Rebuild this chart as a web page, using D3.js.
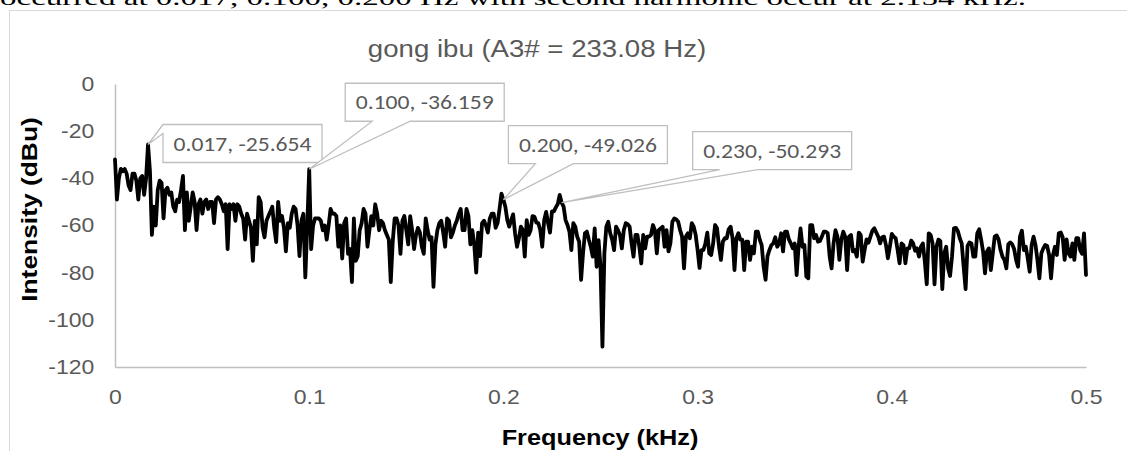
<!DOCTYPE html>
<html>
<head>
<meta charset="utf-8">
<script src="https://cdn.jsdelivr.net/npm/d3@7"></script>
<style>
  html, body { margin: 0; padding: 0; background: #fff; overflow: hidden; }
  svg { display: block; }
</style>
</head>
<body>
<svg id="chart" width="1127" height="451"></svg>
<script>
// spectrum of the "gong ibu" recording, one value per 0.001 kHz bin (dBu)
var binWidth = 0.001;
var intensity = [
  -32, -49, -40, -36, -37, -36, -38, -43, -45, -38, -38, -41, -49, -40, -39, -47, -40,
  -25.654,
  -37, -64, -52, -60, -45, -41, -42, -57, -45, -44, -47, -46, -52, -54, -49, -50, -45, -39, -62,
  -46, -58, -52, -46, -50, -62, -51, -49, -55, -50, -49, -53, -50, -50, -59, -49, -48, -49, -51, -54,
  -51, -70, -51, -53, -51, -58, -51, -52, -55, -57, -66, -55, -58, -61, -75, -58, -68, -48, -50, -61,
  -65, -58, -56, -54, -52, -61, -67, -50, -58, -56, -61, -71, -59, -61, -55, -52, -53, -60, -73, -58, -55, -82, -60,
  -36.159,
  -70, -60, -57, -57, -57, -58, -62, -60, -66, -60, -53, -55, -55, -56, -69, -60, -74, -59, -57, -72,
  -70, -84, -57, -75, -73, -62, -59, -53, -55, -69, -62, -56, -60, -51, -55, -62, -58, -59, -62, -64,
  -66, -84, -67, -57, -57, -60, -72, -58, -56, -62, -68, -56, -62, -70, -64, -61, -63, -69, -72, -57,
  -62, -66, -65, -86, -68, -62, -59, -58, -63, -69, -57, -58, -65, -63, -60, -58, -55, -53, -62, -62,
  -53, -56, -68, -62, -68, -80, -63, -73, -59, -58, -60, -63, -57, -55, -55, -61, -59, -53, -46.5,
  -49.026,
  -52, -57.7, -60.5, -57.7, -55.3, -63.3, -69, -65.4, -60.5, -61.9, -73.2, -57.7, -64, -62, -56, -56.3, -58.8, -59, -62, -69,
  -57.7, -54.2, -59, -63, -54, -54, -52.3, -50.9, -47,
  -50.293,
  -52, -57.7, -59.8, -62.6, -70.4, -59, -60.5, -64.7, -66.9, -83.1, -71.8, -63.3, -62.6, -66, -69, -73.2, -61.2, -77.5, -66.2, -77.5,
  -111.4, -71.8, -60.5, -58.4, -63.3, -66, -70.4, -60.5, -62, -64, -69.7, -62, -59, -59.4, -60.5, -67.6, -73.2, -64, -64, -69,
  -76.1, -64, -69.7, -64.7, -64.7, -64, -59.8, -62, -71.8, -62, -61.2, -60.5, -69, -62, -71, -67.6, -58.4, -57, -57.4, -58.4,
  -62, -64.7, -78.2, -64.7, -63.3, -65.4, -59, -60.5, -64, -70.4,
  -78, -70.4, -70.4, -67.6, -63, -71.8, -72.5, -67.6, -59.8, -61.2, -68.7, -74.6, -66.9, -65.4, -65.4, -61.6, -60.5, -65.4, -78.9, -65.4,
  -63.3, -66, -66, -78.9, -66.9, -66.9, -74.6, -69, -71.8, -62.6, -62.6, -66, -68.3, -77.5, -83, -73, -70.4, -68.3, -67.6, -65,
  -69, -67.6, -63.3, -71, -62.6, -62.6, -65.9, -67.6, -69.7, -67.6, -81, -69, -61.2, -69, -68.3, -81.7, -82.4, -59.8, -59.8, -65.4,
  -64, -66.9, -66.6, -64.7, -62.6, -62.6, -63.3, -73.2, -78.2, -67.6, -62, -64.7, -74.6, -66, -62.6, -64.7, -78.9, -64.7, -64, -71,
  -70.4, -73.2, -63, -64, -75.3, -70.4, -65.9, -67.3, -64.7, -62.2, -61.2, -63, -64.7, -67.6, -65, -64.7, -68.3, -73.9, -69, -63.6,
  -64.7, -65.4, -70.4, -76, -67.6, -68.3, -76, -69.7, -69.7, -66.4, -67.6, -70.7, -69.7, -73.2, -69, -67.6, -75.3, -84.9, -63.3, -64,
  -67.6, -85, -69, -66, -66.6, -87, -71.8, -69, -78.2, -81.4, -73.2, -61.2, -61, -62.3, -65.4, -67.6, -77.5, -87, -68.7, -67.2,
  -67.6, -73.2, -73.2, -63.3, -61.6, -66, -71, -80.3, -71, -69.7, -78.9, -71.8, -64.7, -64.2, -66, -70.4, -73.2, -74.6, -78.2, -68,
  -67.2, -68, -70, -74.6, -77.5, -64.7, -62.2, -70.4, -69, -73.9, -79.6, -68.3, -64.7, -68.3, -74.6, -82.4, -71.8, -69.7, -68.3, -68.7,
  -72.5, -82.4, -72.5, -69, -72.5, -63.3, -63, -65, -74.6, -65.9, -71.8, -73.2, -67.6, -74.6, -65.4, -65.4, -70.4, -72, -63.3, -81
];
var xTicks = [0, 0.1, 0.2, 0.3, 0.4, 0.5];
var yTicks = [0, -20, -40, -60, -80, -100, -120];
var peakIdx = [17, 100, 200, 230];   // labelled peaks

var titleText = "gong ibu (A3# = 233.08 Hz)";
var xTitle = "Frequency (kHz)";
var yTitle = "Intensity (dBu)";
var captionText = "occurred at 0.017, 0.100, 0.200 Hz with second harmonic occur at 2.154 kHz.";

var spectrum = intensity.map(function (v, i) { return { f: i * binWidth, v: v }; });

var svg = d3.select("#chart");
var grey = "#595959";
var sx = 1.15; // source picture is a bit wider than tall

// text that was stretched horizontally in the source
function stretchText(g, x, y, txt) {
  return g.append("text")
    .attr("transform", "translate(" + x + "," + y + ") scale(" + sx + ",1)")
    .text(txt);
}

// plain hyphen minus like the original, not the unicode one d3 uses
function num(d) { return String(d); }

// caption line of the page that sits above the chart (cut off)
stretchText(svg, 0, 5, captionText)
  .attr("font-family", "Liberation Serif, serif")
  .attr("font-size", 20)
  .attr("textLength", 1026 / sx)
  .attr("lengthAdjust", "spacingAndGlyphs")
  .attr("fill", "#000");

// chart area border
svg.append("rect")
  .attr("x", 9.5).attr("y", 10.5)
  .attr("width", 1300).attr("height", 600)
  .attr("fill", "none")
  .attr("stroke", "#d9d9d9")
  .attr("stroke-width", 1);

var x = d3.scaleLinear().domain([0, 0.5]).range([115, 1086]);
var y = d3.scaleLinear().domain([0, -120]).range([84, 367]);

// y axis
var yAxis = svg.append("g")
  .attr("transform", "translate(" + x(0) + ",0)")
  .call(d3.axisLeft(y).tickValues(yTicks).tickSize(0).tickSizeOuter(0).tickPadding(18).tickFormat(num));
yAxis.select(".domain").attr("stroke", "#bfbfbf").attr("stroke-width", 1.5);
yAxis.selectAll("text")
  .attr("font-family", "Liberation Sans, Arial, sans-serif")
  .attr("font-size", 20)
  .attr("fill", grey)
  .attr("transform", "scale(" + sx + ",1)");

// x axis
var xAxis = svg.append("g")
  .attr("transform", "translate(0," + y(-120) + ")")
  .call(d3.axisBottom(x).tickValues(xTicks).tickSize(0).tickSizeOuter(0).tickPadding(23).tickFormat(num));
xAxis.select(".domain").attr("stroke", "#bfbfbf").attr("stroke-width", 1.5);
xAxis.selectAll("text")
  .attr("font-family", "Liberation Sans, Arial, sans-serif")
  .attr("font-size", 20)
  .attr("fill", grey)
  .attr("transform", "scale(" + sx + ",1)");

// title
stretchText(svg, 537, 57, titleText)
  .attr("text-anchor", "middle")
  .attr("font-family", "Liberation Sans, Arial, sans-serif")
  .attr("font-size", 24)
  .attr("fill", grey);

// axis titles
stretchText(svg, 600, 445, xTitle)
  .attr("text-anchor", "middle")
  .attr("font-family", "Liberation Sans, Arial, sans-serif")
  .attr("font-weight", "bold")
  .attr("font-size", 22)
  .attr("fill", "#000");

svg.append("text")
  .attr("transform", "translate(37," + ((y(0) + y(-120)) / 2 - 16) + ") rotate(-90) scale(1.2,1)")
  .attr("text-anchor", "middle")
  .attr("font-family", "Liberation Sans, Arial, sans-serif")
  .attr("font-weight", "bold")
  .attr("font-size", 22)
  .attr("fill", "#000")
  .text(yTitle);

// the spectrum line
var line = d3.line()
  .x(function (d) { return x(d.f); })
  .y(function (d) { return y(d.v); });

svg.append("path")
  .datum(spectrum)
  .attr("d", line)
  .attr("fill", "none")
  .attr("stroke", "#000")
  .attr("stroke-width", 3.8)
  .attr("stroke-linejoin", "round")
  .attr("stroke-linecap", "round");

// callout labels: box offset from the point, and which side the pointer leaves from
var callouts = [
  { dx: 15, dy: -20, side: "left" },
  { dx: 36, dy: -86, side: "bottom" },
  { dx: 5, dy: -74, side: "bottom" },
  { dx: 131, dy: -71, side: "bottom" }
];
var boxW = 159, boxH = 38;

peakIdx.forEach(function (idx, k) {
  var p = spectrum[idx];
  var tx = x(p.f), ty = y(p.v);
  var c = callouts[k];
  var l = tx + c.dx, t = ty + c.dy, r = l + boxW, b = t + boxH;
  var path;
  if (c.side === "left") {
    path = "M" + tx + "," + ty + "L" + l + "," + t + "L" + r + "," + t + "L" + r + "," + b +
      "L" + l + "," + b + "L" + l + "," + (t + 9) + "Z";
  } else {
    path = "M" + l + "," + t + "L" + r + "," + t + "L" + r + "," + b +
      "L" + (l + 65) + "," + b + "L" + tx + "," + ty + "L" + (l + 27) + "," + b +
      "L" + l + "," + b + "Z";
  }
  svg.append("path")
    .attr("d", path)
    .attr("fill", "#fff")
    .attr("stroke", "#bfbfbf")
    .attr("stroke-width", 1.3)
    .attr("stroke-linejoin", "miter");
  svg.append("text")
    .attr("x", (l + r) / 2)
    .attr("y", (t + b) / 2 + 7)
    .attr("text-anchor", "middle")
    .attr("font-family", "Carlito, Lato, 'Open Sans', sans-serif")
    .attr("font-size", 20)
    .attr("textLength", 138)
    .attr("lengthAdjust", "spacingAndGlyphs")
    .attr("fill", grey)
    .text(p.f.toFixed(3) + ", " + p.v.toFixed(3));
});
</script>
</body>
</html>
